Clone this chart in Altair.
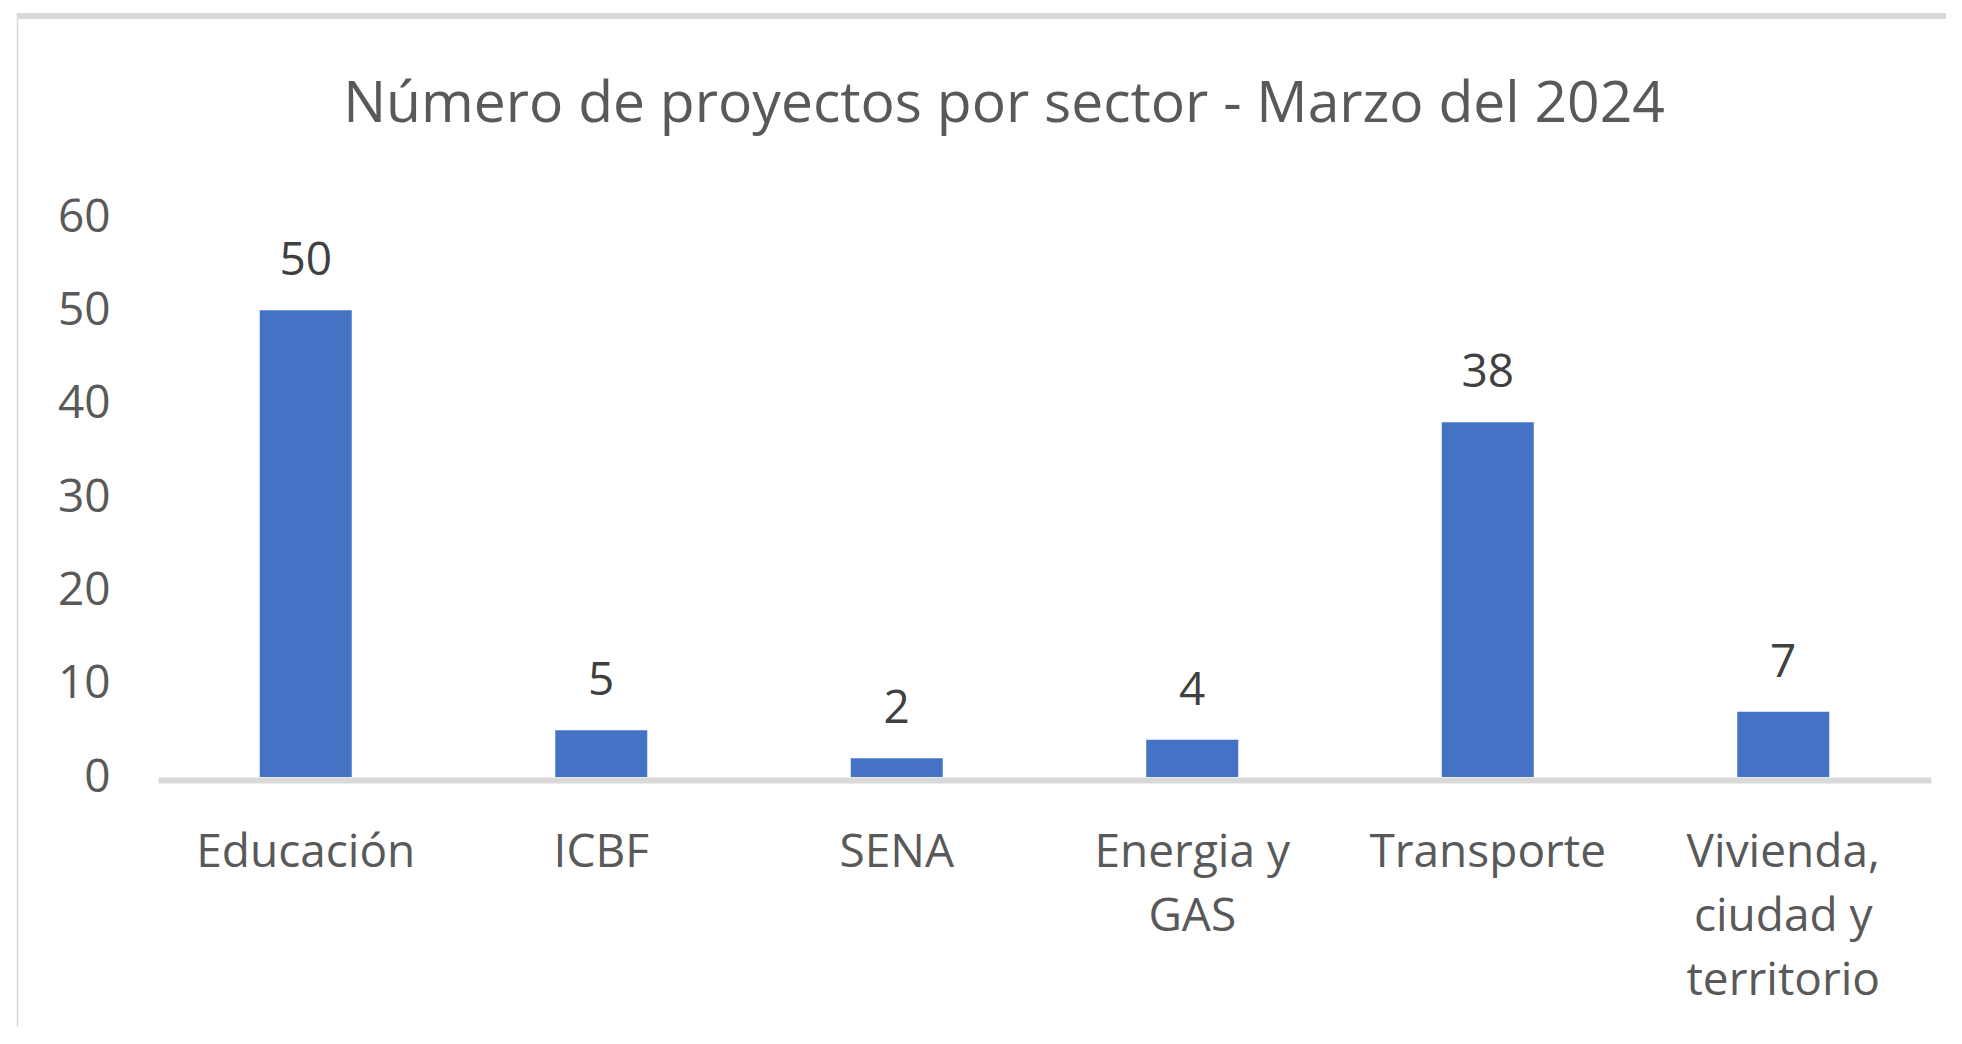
import altair as alt
import pandas as pd

sectores = ["Educación", "ICBF", "SENA", "Energia y\nGAS", "Transporte", "Vivienda,\nciudad y\nterritorio"]
proyectos = [50, 5, 2, 4, 38, 7]
y_ticks = [0, 10, 20, 30, 40, 50, 60]
titulo = ["Número de proyectos por sector - Marzo del 2024"]

FONT = "Open Sans"
df = pd.DataFrame({"sector": sectores, "proyectos": proyectos})

base = alt.Chart(df).encode(
    x=alt.X("sector:N", sort=sectores,
            scale=alt.Scale(paddingInner=0, paddingOuter=0),
            axis=alt.Axis(title=None, labelAngle=0, ticks=False, tickSize=0,
                          domainColor="#D9D9D9", domainWidth=6, offset=3,
                          labelFont=FONT, labelFontSize=46, labelColor="#595959",
                          labelPadding=50, labelLineHeight=64, labelBaseline="top",
                          labelLimit=0, labelOverlap=False,
                          labelExpr="split(datum.label, '\\n')")),
)

bars = base.mark_bar(color="#4472C4", size=92).encode(
    y=alt.Y("proyectos:Q", scale=alt.Scale(domain=[0, 60], nice=False),
            axis=alt.Axis(title=None, values=y_ticks, grid=False, domain=False,
                          ticks=False, tickSize=0, labelPadding=48,
                          labelFont=FONT, labelFontSize=46, labelColor="#595959"))
)

labels = base.mark_text(font=FONT, fontSize=46, color="#404040",
                        baseline="alphabetic", dy=-35).encode(
    y=alt.Y("proyectos:Q"),
    text=alt.Text("proyectos:Q"),
)

frame_df = pd.DataFrame({"k": [0]})
top_line = alt.Chart(frame_df).mark_rule(color="#D9D9D9", strokeWidth=6).encode(
    x=alt.value(-141), x2=alt.value(1810), y=alt.value(-201))
left_line = alt.Chart(frame_df).mark_rule(color="#D9D9D9", strokeWidth=1.5).encode(
    x=alt.value(-140.5), y=alt.value(-204), y2=alt.value(830))

title_df = pd.DataFrame({"t": titulo})
title_mark = alt.Chart(title_df).mark_text(
    font=FONT, fontSize=57, color="#595959", align="center", baseline="alphabetic"
).encode(x=alt.value(846), y=alt.value(-95), text="t:N")

chart = alt.layer(top_line, left_line, bars, labels, title_mark).properties(
    width=1773, height=560,
    padding={"left": 150, "top": 209, "right": 15, "bottom": 250},
    autosize=alt.AutoSizeParams(type="none"),
).configure_view(strokeWidth=0)

chart.save("out.html", embed_options={"renderer": "svg", "actions": False})
